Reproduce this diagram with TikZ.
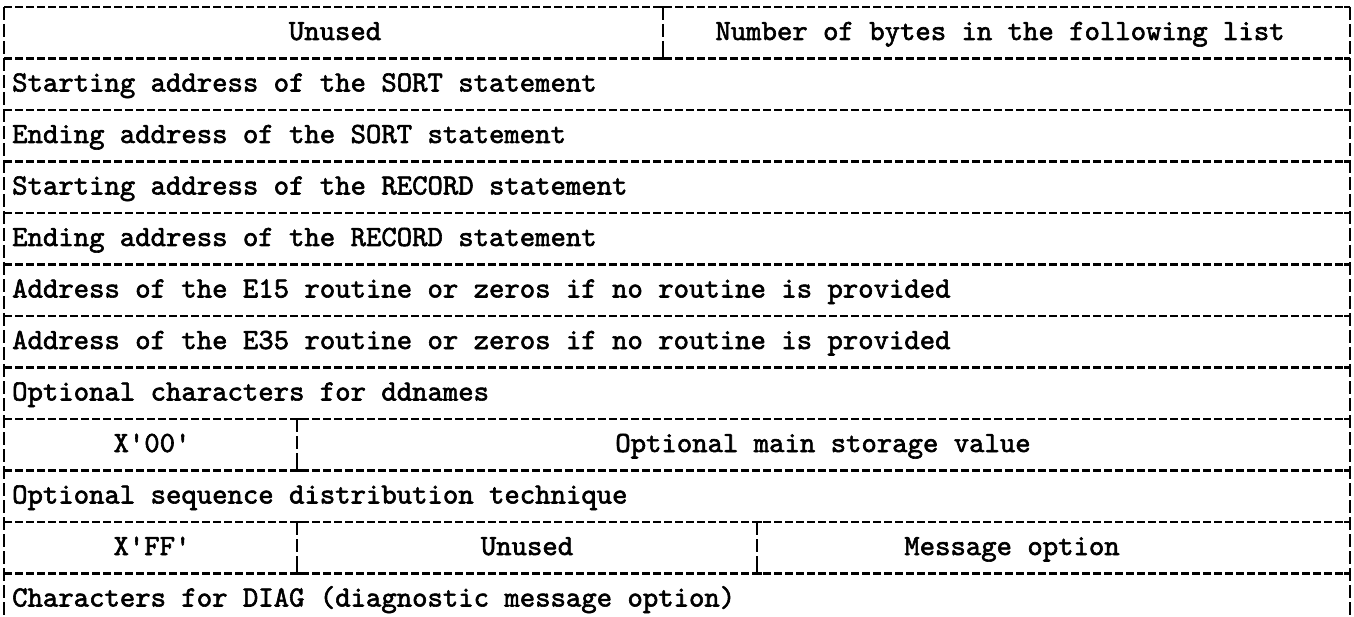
\documentclass[tikz,border=0pt]{standalone}
\usepackage{fontspec}
\newfontfamily\typew{lmmono10-regular.otf}[FakeBold=2]
\usetikzlibrary{calc}
\begin{document}
\begin{tikzpicture}[x=1pt,y=-1pt,
  hrule/.style={line width=2.6pt, dash pattern=on 8pt off 3pt, black},
  vrule/.style={line width=2.8pt, dash pattern=on 13pt off 4pt, black},
  junc/.style={line width=2.8pt, black},
  lbl/.style={font=\fontsize{29.3}{30}\selectfont\typew, inner sep=0pt, anchor=base west},
  ctr/.style={font=\fontsize{29.3}{30}\selectfont\typew, inner sep=0pt, anchor=base}]
\useasboundingbox (0,0) rectangle (1354,617);
% row boundary coordinates
\foreach \i/\y in {0/7,1/58.5,2/110,3/161.5,4/213,5/264.5,6/316,7/367.5,8/419,9/470.5,10/522,11/573.5}{
  \coordinate (L\i) at (4,\y);
  \coordinate (R\i) at (1350,\y);
}
\coordinate (Lend) at (4,617);
\coordinate (Rend) at (1350,617);
% horizontal rules
\foreach \i in {0,...,11}{
  \draw[hrule] (L\i) -- (R\i);
  \draw[junc] (L\i) -- ++(6,0);
  \draw[junc] (R\i) -- ++(-6,0);
}
% outer vertical borders
\draw[vrule] (L0) -- (Lend);
\draw[vrule] (R0) -- (Rend);
\draw[junc] (L0) -- ++(0,8);
\draw[junc] (R0) -- ++(0,8);
% column dividers
\coordinate (d0t) at (663,7);    \coordinate (d0b) at (663,58.5);
\coordinate (d8t) at (297,419);  \coordinate (d8b) at (297,470.5);
\coordinate (d10t) at (297,522); \coordinate (d10b) at (297,573.5);
\coordinate (e10t) at (757,522); \coordinate (e10b) at (757,573.5);
\foreach \a/\b in {d0t/d0b,d8t/d8b,d10t/d10b,e10t/e10b}{
  \draw[vrule] (\a) -- (\b);
  \draw[junc] ($(\a)+(-5,0)$) -- ($(\a)+(5,0)$) (\a) -- ++(0,7);
  \draw[junc] ($(\b)+(-5,0)$) -- ($(\b)+(5,0)$) (\b) -- ++(0,-7);
}
% texts (baseline = row top + 33)
\node[ctr] (u0) at (335,40) {Unused};
\node[ctr] (n0) at (1000,40) {Number of bytes in the following list};
\node[lbl] (t1) at (12,91.5) {Starting address of the SORT statement};
\node[lbl] (t2) at (12,143) {Ending address of the SORT statement};
\node[lbl] (t3) at (12,194.5) {Starting address of the RECORD statement};
\node[lbl] (t4) at (12,246) {Ending address of the RECORD statement};
\node[lbl] (t5) at (12,297.5) {Address of the E15 routine or zeros if no routine is provided};
\node[lbl] (t6) at (12,349) {Address of the E35 routine or zeros if no routine is provided};
\node[lbl] (t7) at (12,400.5) {Optional characters for ddnames};
\node[ctr] (x8) at (152,452) {X\textquotesingle 00\textquotesingle};
\node[ctr] (m8) at (823,452) {Optional main storage value};
\node[lbl] (t9) at (12,503.5) {Optional sequence distribution technique};
\node[ctr] (x10) at (152,555) {X\textquotesingle FF\textquotesingle};
\node[ctr] (u10) at (527,555) {Unused};
\node[ctr] (m10) at (1012,555) {Message option};
\node[lbl] (t11) at (12,606.5) {Characters for DIAG (diagnostic message option)};
\end{tikzpicture}
\end{document}
